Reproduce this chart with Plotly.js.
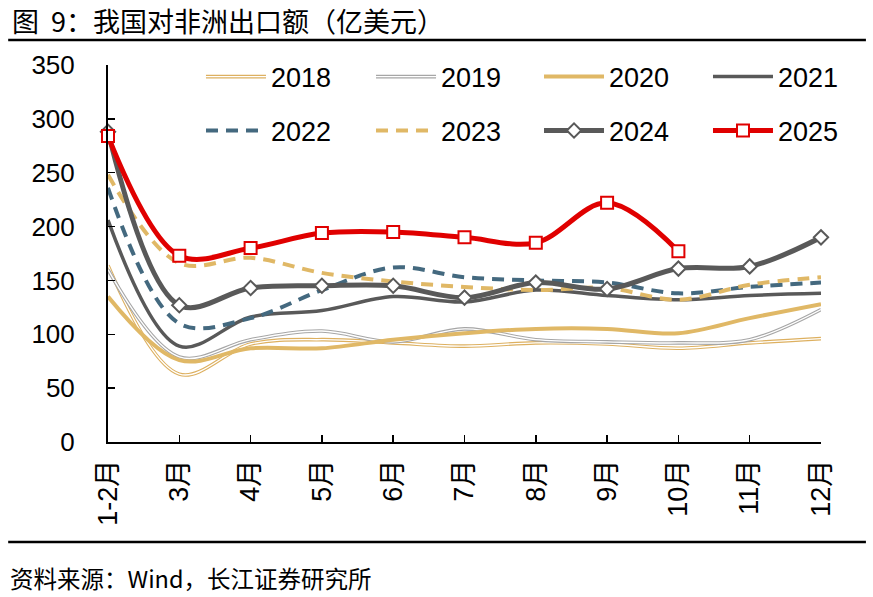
<!DOCTYPE html>
<html>
<head>
<meta charset="utf-8">
<script src="https://cdn.plot.ly/plotly-3.0.1.min.js"></script>
<style>
  html, body { margin: 0; padding: 0; background: #fff; }
  #plot { width: 873px; height: 597px; }
</style>
</head>
<body>
<div id="plot"></div>
<script>
// 月份（横轴）
const months = ["1-2月", "3月", "4月", "5月", "6月", "7月", "8月", "9月", "10月", "11月", "12月"]

// 各年对非洲出口额（亿美元），读自原图
const y2018 = [164, 63, 91, 95, 92, 89, 92, 91, 87, 92, 96]
const y2019 = [160, 79, 95, 103, 93, 105, 95, 93, 92, 95, 123]
const y2020 = [135, 76, 87, 87, 95, 101, 105, 105, 101, 115, 128]
const y2021 = [206, 89, 116, 122, 135, 130, 141, 136, 132, 136, 138]
const y2022 = [236, 110, 115, 141, 162, 153, 150, 148, 138, 144, 148]
const y2023 = [248, 166, 171, 157, 149, 144, 141, 143, 132, 146, 153]
const y2024 = [288, 127, 143, 145, 145, 134, 148, 142, 161, 163, 190]
const y2025 = [284, 173, 180, 194, 195, 190, 185, 222, 177]

const gold = "#E0B866"
const grey = "#A6A6A6"
const dark = "#595959"
const blue = "#44697F"
const red = "#E00000"

function line(name, y, color, width, extra) {
  return Object.assign({
    x: months.slice(0, y.length),
    y: y,
    name: name,
    type: "scatter",
    mode: "lines",
    line: { color: color, width: width, shape: "spline", smoothing: 1 },
    hoverinfo: "skip"
  }, extra || {})
}

function dashed(color) {
  return { color: color, width: 4, dash: "12px,8px", shape: "spline", smoothing: 1 }
}

// 2018、2019 为双线：底色粗线 + 白色细线（图例同样叠放）
const data = [
  line("2018", y2018, "#DDB060", 3.6, { legend: "legend" }),
  line(" ", y2018, "#ffffff", 1.4, { legend: "legend9" }),
  line("2019", y2019, grey, 3.6, { legend: "legend2" }),
  line(" ", y2019, "#ffffff", 1.4, { legend: "legend10" }),
  line("2020", y2020, gold, 4, { legend: "legend3" }),
  line("2021", y2021, dark, 3.5, { legend: "legend4" }),
  line("2022", y2022, blue, 4, { legend: "legend5", line: dashed(blue) }),
  line("2023", y2023, gold, 4, { legend: "legend6", line: dashed(gold) }),
  line("2024", y2024, dark, 5, {
    legend: "legend7",
    mode: "lines+markers",
    cliponaxis: false,
    marker: { symbol: "diamond", size: 11, color: "#ffffff", line: { color: dark, width: 2 } }
  }),
  line("2025", y2025, red, 5, {
    legend: "legend8",
    mode: "lines+markers",
    cliponaxis: false,
    marker: { symbol: "square", size: 12, color: "#ffffff", line: { color: red, width: 2 } }
  })
]

const numFont = { family: "Arial, Liberation Sans, sans-serif", size: 26, color: "#000" }
const monthFont = { family: "Arial, Liberation Sans, Noto Sans CJK SC, sans-serif", size: 27, color: "#000" }
const legendFont = { family: "Arial, Liberation Sans, sans-serif", size: 27, color: "#000" }

// 图例：两行四列
const legendX = [0.1304, 0.3689, 0.6045, 0.8415]
const legendY = [0.968, 0.825]
function legendAt(i) {
  return {
    orientation: "h",
    font: legendFont,
    bgcolor: "rgba(0,0,0,0)",
    itemwidth: 60,
    x: legendX[i % 4],
    y: legendY[Math.floor(i / 4)],
    xanchor: "left",
    yanchor: "middle",
    itemclick: false,
    itemdoubleclick: false
  }
}

const layout = {
  width: 873,
  height: 597,
  margin: { l: 108, r: 52, t: 65, b: 155, pad: 0 },
  paper_bgcolor: "#ffffff",
  plot_bgcolor: "#ffffff",
  showlegend: true,
  xaxis: {
    type: "category",
    range: [0, 10],
    showgrid: false,
    zeroline: false,
    showline: true,
    linecolor: "#000",
    linewidth: 2,
    ticks: "inside",
    ticklen: 7,
    tickwidth: 1.5,
    tickcolor: "#000",
    tickangle: -90,
    tickfont: monthFont,
    ticklabelstandoff: 5
  },
  yaxis: {
    range: [0, 350],
    dtick: 50,
    showgrid: false,
    zeroline: false,
    showline: true,
    linecolor: "#000",
    linewidth: 2,
    ticks: "inside",
    ticklen: 7,
    tickwidth: 1.5,
    tickcolor: "#000",
    tickfont: numFont,
    ticklabelstandoff: 26
  },
  shapes: [
    { type: "line", xref: "paper", yref: "paper", x0: -0.14, x1: 1.063, y0: 1.066, y1: 1.066, line: { color: "#000", width: 2.5 } },
    { type: "line", xref: "paper", yref: "paper", x0: -0.14, x1: 1.063, y0: -0.265, y1: -0.265, line: { color: "#000", width: 2.5 } }
  ],
  annotations: [
    {
      text: "图\u00a0\u00a09：我国对非洲出口额（亿美元）",
      xref: "paper", yref: "paper", x: -0.138, y: 1.119,
      xanchor: "left", yanchor: "middle", showarrow: false,
      font: { family: "Noto Sans CJK SC, sans-serif", size: 27, color: "#000" }
    },
    {
      text: "资料来源：Wind，长江证券研究所",
      xref: "paper", yref: "paper", x: -0.14, y: -0.361,
      xanchor: "left", yanchor: "middle", showarrow: false,
      font: { family: "Noto Sans CJK SC, sans-serif", size: 23.5, color: "#000" }
    }
  ]
}
for (let i = 0; i < 8; i++) {
  layout[i === 0 ? "legend" : "legend" + (i + 1)] = legendAt(i)
}
// 双线图例的白色内线，叠在 2018、2019 图例上
layout.legend9 = legendAt(0)
layout.legend10 = legendAt(1)

Plotly.newPlot("plot", data, layout, { displayModeBar: false, staticPlot: true })
</script>
</body>
</html>
